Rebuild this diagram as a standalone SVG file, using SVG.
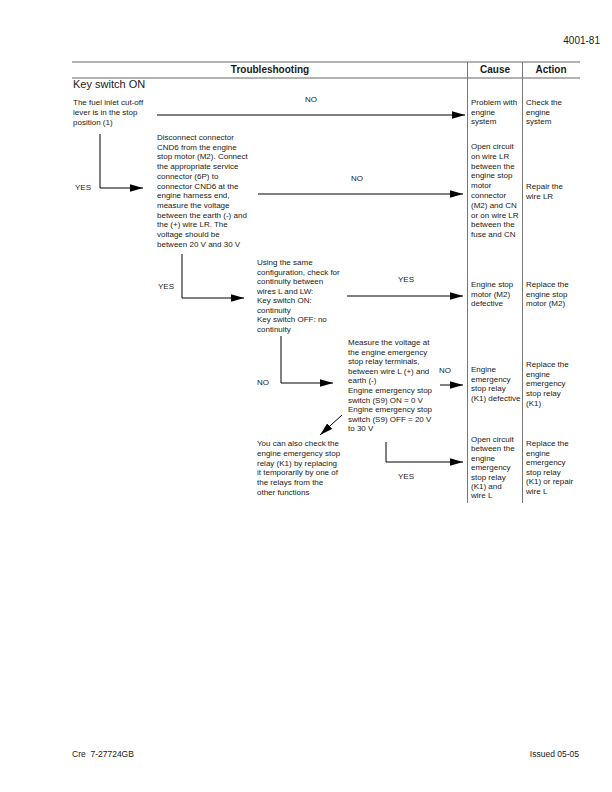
<svg xmlns="http://www.w3.org/2000/svg" width="612" height="792" viewBox="0 0 612 792">
<style>
text{font-family:"Liberation Sans",Arial,sans-serif;fill:#1a1a1a}
.t{font-size:8px}
.h{font-size:10px;font-weight:bold}
.lbl{font-size:8px}
.rule{stroke:#666;stroke-width:1.2;fill:none}
.col{stroke:#777;stroke-width:1;fill:none}
.c{stroke:#000;stroke-width:1;fill:none}
</style>
<defs>
<marker id="ah" markerUnits="userSpaceOnUse" markerWidth="13" markerHeight="8" refX="13" refY="4" orient="auto">
<path d="M0,0.3 L13,4 L0,7.7 z" fill="#000"/>
</marker>
</defs>
<rect width="612" height="792" fill="#fff"/>
<g id="page">
<text x="600" y="44" text-anchor="end" style="font-size:10px">4001-81</text>
<line class="rule" x1="72" y1="62" x2="580" y2="62"/>
<line class="rule" x1="72" y1="78" x2="580" y2="78"/>
<line class="col" x1="467.5" y1="62" x2="467.5" y2="503"/>
<line class="col" x1="522.5" y1="62" x2="522.5" y2="503"/>
<text class="h" x="270" y="73" text-anchor="middle">Troubleshooting</text>
<text class="h" x="495" y="73" text-anchor="middle">Cause</text>
<text class="h" x="551" y="73" text-anchor="middle">Action</text>
<text x="73" y="88" style="font-size:11px">Key switch ON</text>
<text x="72" y="757" style="font-size:8.5px;white-space:pre" xml:space="preserve">Cre  7-27724GB</text>
<text x="579" y="757" text-anchor="end" style="font-size:8.5px">Issued 05-05</text>
</g>
<g id="n-fuel"><text class="t" x="73" y="105"><tspan x="73">The fuel inlet cut-off</tspan><tspan x="73" dy="9.9">lever is in the stop</tspan><tspan x="73" dy="9.9">position (1)</tspan></text></g>
<g id="c-problem"><text class="t" x="471" y="105"><tspan x="471">Problem with</tspan><tspan x="471" dy="9.7">engine</tspan><tspan x="471" dy="9.7">system</tspan></text></g>
<g id="a-check"><text class="t" x="526" y="105"><tspan x="526">Check the</tspan><tspan x="526" dy="9.7">engine</tspan><tspan x="526" dy="9.7">system</tspan></text></g>
<g id="n-disconnect"><text class="t" x="157" y="140"><tspan x="157">Disconnect connector</tspan><tspan x="157" dy="9.7">CND6 from the engine</tspan><tspan x="157" dy="9.7">stop motor (M2). Connect</tspan><tspan x="157" dy="9.7">the appropriate service</tspan><tspan x="157" dy="9.7">connector (6P) to</tspan><tspan x="157" dy="9.7">connector CND6 at the</tspan><tspan x="157" dy="9.7">engine harness end,</tspan><tspan x="157" dy="9.7">measure the voltage</tspan><tspan x="157" dy="9.7">between the earth (-) and</tspan><tspan x="157" dy="9.7">the (+) wire LR. The</tspan><tspan x="157" dy="9.7">voltage should be</tspan><tspan x="157" dy="9.7">between 20 V and 30 V</tspan></text></g>
<g id="c-opencircuit-lr"><text class="t" x="471" y="149"><tspan x="471">Open circuit</tspan><tspan x="471" dy="9.8">on wire LR</tspan><tspan x="471" dy="9.8">between the</tspan><tspan x="471" dy="9.8">engine stop</tspan><tspan x="471" dy="9.8">motor</tspan><tspan x="471" dy="9.8">connector</tspan><tspan x="471" dy="9.8">(M2) and CN</tspan><tspan x="471" dy="9.8">or on wire LR</tspan><tspan x="471" dy="9.8">between the</tspan><tspan x="471" dy="9.8">fuse and CN</tspan></text></g>
<g id="a-repair-lr"><text class="t" x="526" y="189"><tspan x="526">Repair the</tspan><tspan x="526" dy="9.8">wire LR</tspan></text></g>
<g id="n-continuity"><text class="t" x="257" y="265"><tspan x="257">Using the same</tspan><tspan x="257" dy="9.5">configuration, check for</tspan><tspan x="257" dy="9.5">continuity between</tspan><tspan x="257" dy="9.5">wires L and LW:</tspan><tspan x="257" dy="9.5">Key switch ON:</tspan><tspan x="257" dy="9.5">continuity</tspan><tspan x="257" dy="9.5">Key switch OFF: no</tspan><tspan x="257" dy="9.5">continuity</tspan></text></g>
<g id="c-motor"><text class="t" x="471" y="287"><tspan x="471">Engine stop</tspan><tspan x="471" dy="9.7">motor (M2)</tspan><tspan x="471" dy="9.7">defective</tspan></text></g>
<g id="a-motor"><text class="t" x="526" y="287"><tspan x="526">Replace the</tspan><tspan x="526" dy="9.7">engine stop</tspan><tspan x="526" dy="9.7">motor (M2)</tspan></text></g>
<g id="n-measure"><text class="t" x="348" y="345"><tspan x="348">Measure the voltage at</tspan><tspan x="348" dy="9.6">the engine emergency</tspan><tspan x="348" dy="9.6">stop relay terminals,</tspan><tspan x="348" dy="9.6">between wire L (+) and</tspan><tspan x="348" dy="9.6">earth (-)</tspan><tspan x="348" dy="9.6">Engine emergency stop</tspan><tspan x="348" dy="9.6">switch (S9) ON = 0 V</tspan><tspan x="348" dy="9.6">Engine emergency stop</tspan><tspan x="348" dy="9.6">switch (S9) OFF = 20 V</tspan><tspan x="348" dy="9.6">to 30 V</tspan></text></g>
<g id="c-relay"><text class="t" x="471" y="372"><tspan x="471">Engine</tspan><tspan x="471" dy="9.7">emergency</tspan><tspan x="471" dy="9.7">stop relay</tspan><tspan x="471" dy="9.7">(K1) defective</tspan></text></g>
<g id="a-relay"><text class="t" x="526" y="367"><tspan x="526">Replace the</tspan><tspan x="526" dy="9.7">engine</tspan><tspan x="526" dy="9.7">emergency</tspan><tspan x="526" dy="9.7">stop relay</tspan><tspan x="526" dy="9.7">(K1)</tspan></text></g>
<g id="n-alsocheck"><text class="t" x="257" y="446"><tspan x="257">You can also check the</tspan><tspan x="257" dy="9.8">engine emergency stop</tspan><tspan x="257" dy="9.8">relay (K1) by replacing</tspan><tspan x="257" dy="9.8">it temporarily by one of</tspan><tspan x="257" dy="9.8">the relays from the</tspan><tspan x="257" dy="9.8">other functions</tspan></text></g>
<g id="c-opencircuit-l"><text class="t" x="471" y="442"><tspan x="471">Open circuit</tspan><tspan x="471" dy="9.4">between the</tspan><tspan x="471" dy="9.4">engine</tspan><tspan x="471" dy="9.4">emergency</tspan><tspan x="471" dy="9.4">stop relay</tspan><tspan x="471" dy="9.4">(K1) and</tspan><tspan x="471" dy="9.4">wire L</tspan></text></g>
<g id="a-relay-wire"><text class="t" x="526" y="446"><tspan x="526">Replace the</tspan><tspan x="526" dy="9.6">engine</tspan><tspan x="526" dy="9.6">emergency</tspan><tspan x="526" dy="9.6">stop relay</tspan><tspan x="526" dy="9.6">(K1) or repair</tspan><tspan x="526" dy="9.6">wire L</tspan></text></g>
<g id="connectors">
<line class="c" x1="157" y1="115" x2="465" y2="115" marker-end="url(#ah)"/>
<polyline class="c" points="100,134 100,188 143,188" marker-end="url(#ah)"/>
<line class="c" x1="258" y1="194" x2="463" y2="194" marker-end="url(#ah)"/>
<polyline class="c" points="182,254 182,298 244,298" marker-end="url(#ah)"/>
<line class="c" x1="347" y1="296" x2="463" y2="296" marker-end="url(#ah)"/>
<polyline class="c" points="281,336 281,383 333,383" marker-end="url(#ah)"/>
<line class="c" x1="440" y1="385" x2="463" y2="385" marker-end="url(#ah)"/>
<line class="c" x1="342" y1="415" x2="320" y2="435" marker-end="url(#ah)"/>
<polyline class="c" points="386,442 386,462 463,462" marker-end="url(#ah)"/>
<text class="lbl" x="305" y="102">NO</text>
<text class="lbl" x="75" y="190">YES</text>
<text class="lbl" x="351" y="181">NO</text>
<text class="lbl" x="158" y="289">YES</text>
<text class="lbl" x="398" y="282">YES</text>
<text class="lbl" x="257" y="385">NO</text>
<text class="lbl" x="439" y="373">NO</text>
<text class="lbl" x="398" y="479">YES</text>
</g>
</svg>
